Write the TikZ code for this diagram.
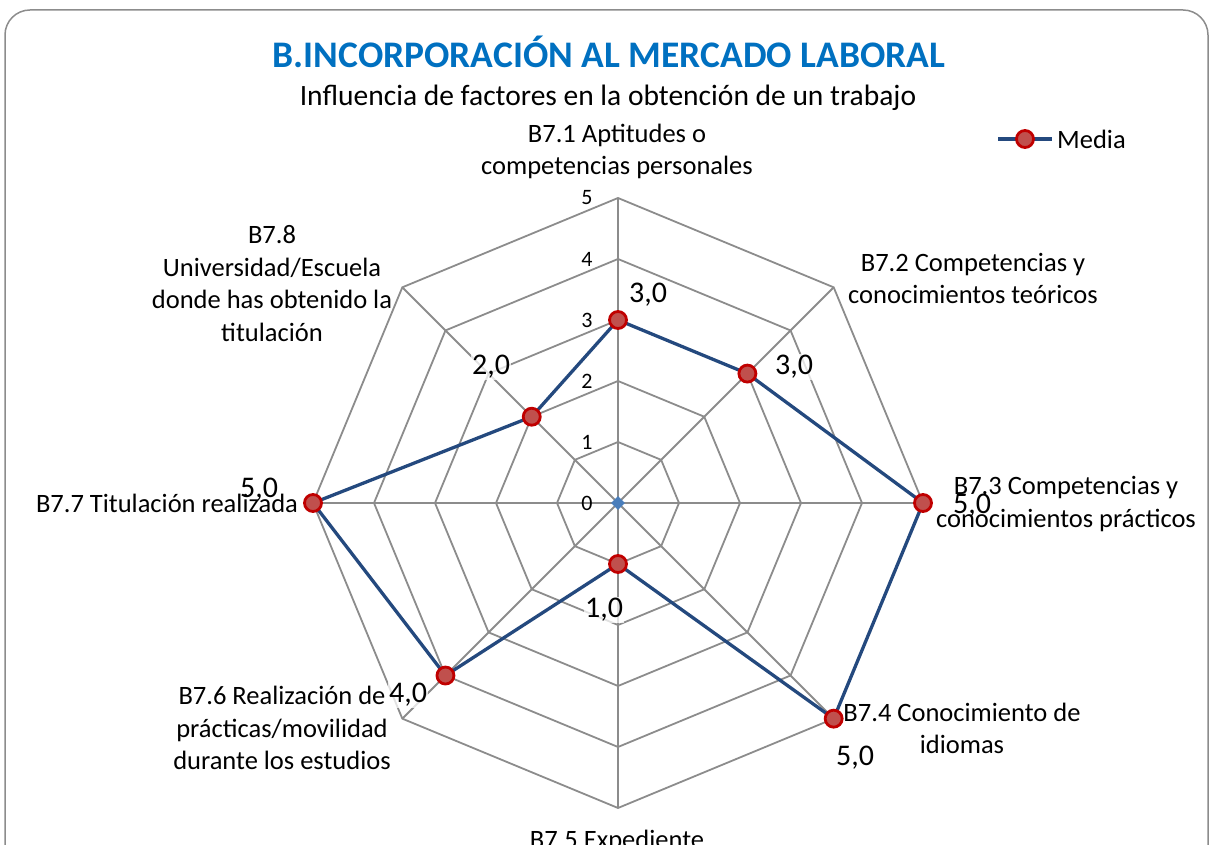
\documentclass[tikz,border=0pt]{standalone}
\usepackage{fontspec}
\setmainfont{Carlito}
\usetikzlibrary{shapes.geometric}
\definecolor{gridc}{HTML}{8C8C8C}
\definecolor{serc}{HTML}{24497E}
\definecolor{mkedge}{HTML}{C00000}
\definecolor{mkfill}{HTML}{C0504D}
\definecolor{titc}{HTML}{0070C0}
\definecolor{framec}{HTML}{8C8C8C}
\definecolor{diac}{HTML}{4A7EBB}
\begin{document}
\begin{tikzpicture}[x=1pt,y=1pt,
 gridline/.style={draw=gridc,line width=1.8pt},
 series/.style={draw=serc,line width=3.3pt,line join=round},
 mk/.style={circle,draw=mkedge,fill=mkfill,line width=2.8pt,minimum size=17pt,inner sep=0pt},
 axl/.style={font=\fontsize{26.5}{32.5}\selectfont,align=center,inner sep=0pt},
 dl/.style={font=\fontsize{30}{36}\selectfont,fill=white,fill opacity=0.75,text opacity=1,inner sep=1pt},
 tk/.style={font=\fontsize{22}{26}\selectfont,inner sep=0pt},
 titlestyle/.style={font=\fontsize{37.5}{45}\selectfont\bfseries,text=titc,inner sep=0pt},
 subtitlestyle/.style={font=\fontsize{29.5}{35}\selectfont,inner sep=0pt}]
\path[clip] (0,0) rectangle (1211,845);
\draw[framec,line width=1.5pt,rounded corners=25pt] (5,-40) rectangle (1208,835);

\node[titlestyle] (title) at (609,793) {B.INCORPORACIÓN AL MERCADO LABORAL};
\node[subtitlestyle] (subtitle) at (608,747) {Influencia de factores en la obtención de un trabajo};

\begin{scope}[shift={(618,342)}]
  % rings
  \foreach \r in {61,122,183,244,305}
    \draw[gridline] (0:\r) -- (45:\r) -- (90:\r) -- (135:\r) -- (180:\r) -- (225:\r) -- (270:\r) -- (315:\r) -- cycle;
  % spokes
  \foreach \a in {0,45,...,315}
    \draw[gridline] (0,0) -- (\a:305);
  % tick labels
  \foreach \k in {0,...,5}
    \node[tk] (tick\k) at (-31,\k*61) {\k};
  % data points
  \foreach \a/\v/\n in {90/3/p1,45/3/p2,0/5/p3,-45/5/p4,-90/1/p5,-135/4/p6,180/5/p7,135/2/p8}
    \coordinate (\n) at (\a:\v*61);
  \node[diamond,fill=diac,minimum size=14pt,inner sep=0pt] (ctr) at (0,0) {};
\end{scope}

\draw[series] (p1) -- (p2) -- (p3) -- (p4) -- (p5) -- (p6) -- (p7) -- (p8) -- cycle;
\foreach \n in {p1,p2,p3,p4,p5,p6,p7,p8}
  \node[mk] (m\n) at (\n) {};

% axis labels
\node[axl] (l1) at (617,693.5) {B7.1 Aptitudes o\\competencias personales};
\node[axl] (l2) at (973,566.5) {B7.2 Competencias y\\conocimientos teóricos};
\node[axl] (l3) at (1066,341) {B7.3 Competencias y\\conocimientos prácticos};
\node[axl] (l4) at (962,116.5) {B7.4 Conocimiento de\\idiomas};
\node[axl,anchor=base] (l5) at (617,-4) {B7.5 Expediente};
\node[axl] (l6) at (282,117) {B7.6 Realización de\\prácticas/movilidad\\durante los estudios};
\node[axl] (l7) at (167,342) {B7.7 Titulación realizada};
\node[axl] (l8) at (272,561.5) {B7.8\\Universidad/Escuela\\donde has obtenido la\\titulación};

% data labels
\node[dl] (d1) at (648,550) {3,0};
\node[dl] (d2) at (794,478) {3,0};
\node[dl,fill opacity=0] (d3) at (972,339) {5,0};
\node[dl] (d4) at (855,87) {5,0};
\node[dl] (d5) at (604,235) {1,0};
\node[dl] (d6) at (408,150) {4,0};
\node[dl,fill opacity=0] (d7) at (259,355) {5,0};
\node[dl] (d8) at (491,478) {2,0};

% legend
\coordinate (lgA) at (998,706);
\coordinate (lgB) at (1052,706);
\draw[series] (lgA) -- (lgB);
\node[mk] (lgm) at (1025,706) {};
\node[axl,anchor=west] (lgt) at (1057,706) {Media};
\end{tikzpicture}
\end{document}
